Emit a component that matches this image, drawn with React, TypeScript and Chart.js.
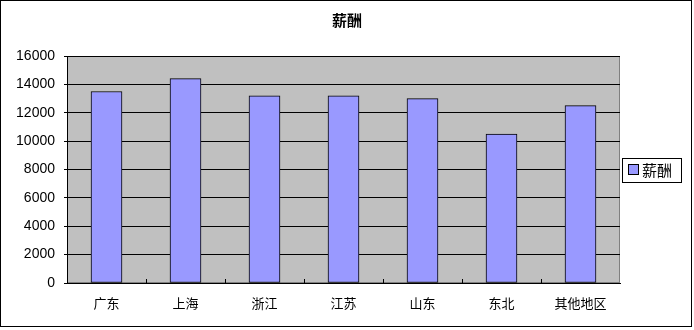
import React, { useEffect, useRef } from "react";
import { Chart, registerables } from "chart.js";

Chart.register(...registerables);

const categories = ["广东", "上海", "浙江", "江苏", "山东", "东北", "其他地区"];
const salary = [13500, 14400, 13200, 13200, 13000, 10500, 12500];
const seriesName = "薪酬";
const chartTitle = "薪酬";
const yTicks = [0, 2000, 4000, 6000, 8000, 10000, 12000, 14000, 16000];

const FONT = "'Liberation Sans', 'Noto Sans CJK SC', sans-serif";

const framePlugin = {
  id: "frame",
  beforeDraw(chart: any) {
    const { ctx, chartArea } = chart;
    ctx.save();
    ctx.fillStyle = "#ffffff";
    ctx.fillRect(0, 0, chart.width, chart.height);
    ctx.fillStyle = "#C0C0C0";
    ctx.fillRect(chartArea.left, chartArea.top, chartArea.right - chartArea.left, chartArea.bottom - chartArea.top);
    ctx.strokeStyle = "#808080";
    ctx.lineWidth = 1;
    ctx.strokeRect(chartArea.left + 0.5, chartArea.top + 0.5, chartArea.right - chartArea.left - 1, chartArea.bottom - chartArea.top - 1);
    ctx.restore();
  },
  afterDraw(chart: any) {
    const { ctx, chartArea } = chart;
    const x = chart.scales.x;
    ctx.save();
    ctx.strokeStyle = "#000";
    ctx.lineWidth = 1;
    ctx.beginPath();
    for (let i = 1; i < categories.length; i++) {
      const px = Math.round((x.getPixelForValue(i - 1) + x.getPixelForValue(i)) / 2) + 0.5;
      ctx.moveTo(px, chartArea.bottom);
      ctx.lineTo(px, chartArea.bottom - 4);
    }
    ctx.stroke();
    ctx.fillStyle = "#000";
    ctx.font = "bold 15px 'Noto Sans CJK SC', sans-serif";
    ctx.textAlign = "center";
    ctx.textBaseline = "middle";
    ctx.fillText(chartTitle, 347, 20);
    ctx.strokeStyle = "#000";
    ctx.strokeRect(622.5, 158.5, 59, 24);
    ctx.fillStyle = "#9999FF";
    ctx.fillRect(628, 164, 11, 11);
    ctx.strokeRect(628.5, 164.5, 10, 10);
    ctx.fillStyle = "#000";
    ctx.font = "15px 'Noto Sans CJK SC', sans-serif";
    ctx.textAlign = "left";
    ctx.fillText(seriesName, 642, 170);
    ctx.strokeRect(0.5, 0.5, 691, 326);
    ctx.restore();
  },
};

export default function App() {
  const ref = useRef<HTMLCanvasElement>(null);
  useEffect(() => {
    document.body.style.margin = "0";
    const chart = new Chart(ref.current!, {
      type: "bar",
      data: {
        labels: categories,
        datasets: [
          {
            label: seriesName,
            data: salary,
            backgroundColor: "#9999FF",
            borderColor: "#000000",
            borderWidth: 1,
            borderSkipped: false,
            barThickness: 31,
          },
        ],
      },
      options: {
        animation: false,
        responsive: false,
        layout: { padding: { top: 56, right: 74, left: 0, bottom: 0 } },
        plugins: { legend: { display: false }, title: { display: false }, tooltip: { enabled: false } },
        scales: {
          x: {
            offset: true,
            grid: { display: false },
            border: { display: true, color: "#000" },
            ticks: { color: "#000", font: { family: "'Noto Sans CJK SC', sans-serif", size: 13 }, padding: 4, maxRotation: 0, autoSkip: false },
            afterFit: (s: any) => { s.height = 47; },
          },
          y: {
            min: 0,
            max: 16000,
            afterBuildTicks: (s: any) => { s.ticks = yTicks.map((v) => ({ value: v })); },
            grid: { color: "#000", tickLength: 3, tickColor: "#000" },
            border: { display: true, color: "#000" },
            ticks: { color: "#000", font: { family: FONT, size: 14 }, padding: 9, callback: (v: any) => String(v) },
            afterFit: (s: any) => { s.width = 67; },
          },
        },
      },
      plugins: [framePlugin],
    });
    return () => chart.destroy();
  }, []);
  return (
    <div style={{ width: 694, height: 330 }}>
      <canvas ref={ref} width={694} height={330} style={{ display: "block" }} />
    </div>
  );
}
